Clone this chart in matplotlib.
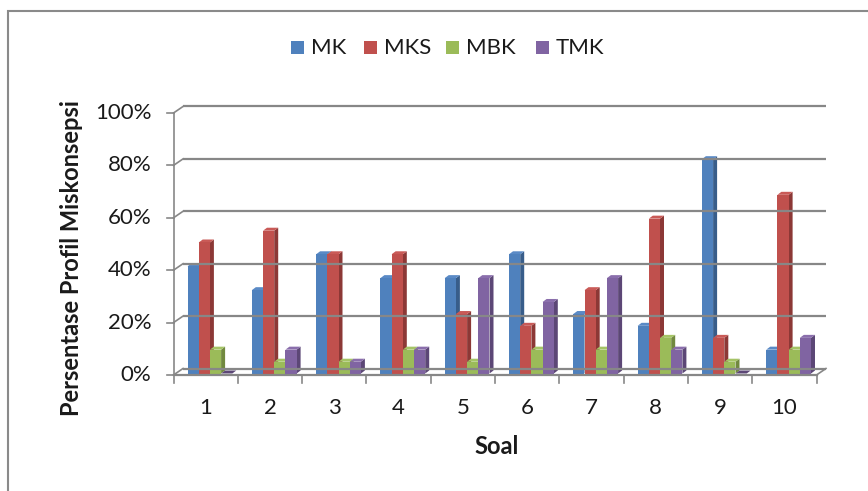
import matplotlib.pyplot as plt
from matplotlib.patches import Polygon, Rectangle

# -----------------------------
# Data: share of students per category (%), n = 22
# -----------------------------
soal = ["1", "2", "3", "4", "5", "6", "7", "8", "9", "10"]
mk = [40.9, 31.8, 45.5, 36.4, 36.4, 45.5, 22.7, 18.2, 81.8, 9.1]
mks = [50.0, 54.5, 45.5, 45.5, 22.7, 18.2, 31.8, 59.1, 13.6, 68.2]
mbk = [9.1, 4.5, 4.5, 9.1, 4.5, 9.1, 9.1, 13.6, 4.5, 9.1]
tmk = [0.0, 9.1, 4.5, 9.1, 36.4, 27.3, 36.4, 9.1, 0.0, 13.6]
series_names = ["MK", "MKS", "MBK", "TMK"]
yticks = [0, 20, 40, 60, 80, 100]

# front / side / top colours (Excel-style)
front_cols = ["#4F81BD", "#C0504D", "#9BBB59", "#8064A2"]
side_cols = ["#385D8A", "#8C3836", "#71893F", "#5C4776"]
top_cols = ["#5A8AC6", "#C95A57", "#A5C466", "#8A6EAC"]

FONT = "Lato"
GRID = "#878787"

# -----------------------------
# Figure geometry (pixels at 100 dpi)
# -----------------------------
W, H = 868, 491
X0_PX = 173.5      # x of category boundary 0.5
CAT_PX = 64.3      # width of one category
Y0_PX = 375.0      # y of 0% on the front plane
PCT_PX = 2.62      # pixels per percent

fig = plt.figure(figsize=(W / 100, H / 100), dpi=100)
fig.patch.set_facecolor("white")

# axes placed so that data units map to the pixel grid above
xmin, xmax = 0.5, 10.9
ymin, ymax = -5.0, 106.0
left = (X0_PX + (xmin - 0.5) * CAT_PX) / W
right = (X0_PX + (xmax - 0.5) * CAT_PX) / W
bottom = (H - (Y0_PX - ymin * PCT_PX)) / H
top = (H - (Y0_PX - ymax * PCT_PX)) / H
ax = fig.add_axes([left, bottom, right - left, top - bottom])
ax.set_xlim(xmin, xmax)
ax.set_ylim(ymin, ymax)
ax.axis("off")

# 3D offsets in data units
DXB = 9.5 / CAT_PX      # back wall offset
DYB = 6.5 / PCT_PX
DXD = 4.0 / CAT_PX      # bar depth
DYD = 3.0 / PCT_PX
BAR_W = 11.2 / CAT_PX
BASE_DX = 1.5 / CAT_PX  # bars sit slightly behind the front edge
BASE_DY = 1.5 / PCT_PX

lw = 1.6
# back wall gridlines + short connectors to the front axis
for v in yticks:
    ax.plot([0.5 + DXB, 10.5 + DXB], [v + DYB, v + DYB], color=GRID, lw=lw,
            solid_capstyle="butt", clip_on=False)
    ax.plot([0.5, 0.5 + DXB], [v, v + DYB], color=GRID, lw=1.2, clip_on=False)
    ax.plot([0.5 - 6.5 / CAT_PX, 0.5], [v, v], color=GRID, lw=1.2, clip_on=False)
    ax.text(0.5 - 22 / CAT_PX, v, f"{v}%", ha="right", va="center",
            fontsize=16, family=FONT, color="#1a1a1a")

# front vertical axis
ax.plot([0.5, 0.5], [0, 100], color=GRID, lw=1.2, clip_on=False)

# floor front edge, right diagonal and category ticks
ax.plot([0.5, 10.5], [0, 0], color=GRID, lw=lw, clip_on=False)
ax.plot([10.5, 10.5 + DXB], [0, DYB], color=GRID, lw=1.2, clip_on=False)
for k in range(11):
    ax.plot([0.5 + k, 0.5 + k], [0, -8 / PCT_PX], color=GRID, lw=1.2, clip_on=False)

# bars: side, top, then front, left to right so later bars cover earlier sides
series = [mk, mks, mbk, tmk]
for i in range(len(soal)):
    g0 = 0.5 + i + 12.5 / CAT_PX
    for s, vals in enumerate(series):
        v = vals[i]
        x0 = g0 + s * BAR_W + BASE_DX
        x1 = x0 + BAR_W
        b = BASE_DY
        t = b + v
        side = Polygon([(x1, b), (x1, t), (x1 + DXD, t + DYD), (x1 + DXD, b + DYD)],
                       closed=True, facecolor=side_cols[s], edgecolor="none")
        topf = Polygon([(x0, t), (x1, t), (x1 + DXD, t + DYD), (x0 + DXD, t + DYD)],
                       closed=True, facecolor=top_cols[s] if v > 0 else side_cols[s],
                       edgecolor="none")
        ax.add_patch(side)
        ax.add_patch(topf)
        if v > 0:
            ax.add_patch(Rectangle((x0, b), BAR_W, v, facecolor=front_cols[s],
                                   edgecolor="none"))

# category labels
for i, lab in enumerate(soal):
    ax.text(i + 1, -12.5, lab, ha="center", va="center", fontsize=16,
            family=FONT, color="#1a1a1a")

# axis titles
fig.text(497 / W, 1 - 447 / H, "Soal", ha="center", va="center",
         fontsize=17, family=FONT, fontweight="bold", color="#1a1a1a")
fig.text(72 / W, 1 - 258 / H, "Persentase Profil Miskonsepsi", ha="center",
         va="center", rotation=90, fontsize=17, family=FONT,
         fontweight="bold", color="#1a1a1a")

# legend row at the top
leg_x = [291, 364, 446, 536]
for s, name in enumerate(series_names):
    fig.patches.append(Rectangle((leg_x[s] / W, 1 - 54 / H), 13 / W, 13 / H,
                                 transform=fig.transFigure, facecolor=front_cols[s],
                                 edgecolor="none"))
    fig.text((leg_x[s] + 20) / W, 1 - 47.5 / H, name, ha="left", va="center",
             fontsize=16, family=FONT, color="#1a1a1a")

# chart area border (runs off the right and bottom edges)
fig.patches.append(Rectangle((8 / W, -0.1), 1.0, 1 - 11 / H + 0.1,
                             transform=fig.transFigure, facecolor="none",
                             edgecolor="#8a8a8a", lw=1.5))

fig.savefig("out.png", dpi=100)
